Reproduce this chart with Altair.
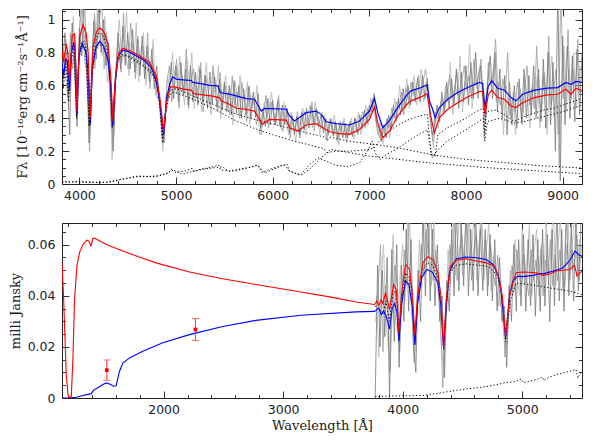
import altair as alt
import pandas as pd

# ---------------- TOP PANEL DATA (F_lambda, 1e-16 erg/cm2/s/A) ----------------
top_grey_start, top_grey_step = 3825, 25
top_grey_flux = [
    0.70, 0.92, 0.66, 0.30, 0.98, 0.74, 0.35, 0.95, 0.78, 1.15, 0.72, 0.25, 0.62, 0.99, 0.76, 1.12,
    0.80, 1.00, 0.72, 0.86, 0.50, 0.20, 0.62, 0.92, 0.70, 0.96, 0.72, 0.92, 0.70, 0.94, 0.68, 0.88,
    0.66, 0.90, 0.64, 0.84, 0.62, 0.82, 0.58, 0.72, 0.50, 0.38, 0.25, 0.55, 0.52, 0.74, 0.52, 0.72,
    0.50, 0.74, 0.54, 0.70, 0.48, 0.72, 0.50, 0.68, 0.48, 0.70, 0.50, 0.66, 0.46, 0.68, 0.49, 0.65,
    0.47, 0.64, 0.45, 0.62, 0.44, 0.60, 0.42, 0.63, 0.43, 0.60, 0.40, 0.58, 0.42, 0.59, 0.40, 0.56,
    0.41, 0.55, 0.34, 0.45, 0.35, 0.52, 0.36, 0.51, 0.36, 0.50, 0.35, 0.48, 0.36, 0.46, 0.31, 0.42,
    0.30, 0.41, 0.30, 0.44, 0.33, 0.46, 0.34, 0.47, 0.36, 0.46, 0.35, 0.42, 0.31, 0.40, 0.30, 0.39,
    0.29, 0.38, 0.28, 0.38, 0.28, 0.37, 0.28, 0.38, 0.29, 0.40, 0.31, 0.42, 0.34, 0.45, 0.37, 0.48,
    0.44, 0.55, 0.36, 0.34, 0.26, 0.36, 0.28, 0.42, 0.33, 0.48, 0.38, 0.52, 0.42, 0.58, 0.46, 0.60,
    0.48, 0.62, 0.50, 0.64, 0.50, 0.66, 0.52, 0.64, 0.42, 0.30, 0.36, 0.48, 0.38, 0.56, 0.44, 0.62,
    0.46, 0.64, 0.48, 0.70, 0.46, 0.68, 0.50, 0.72, 0.48, 0.74, 0.52, 0.80, 0.52, 0.72, 0.55, 0.38,
    0.62, 0.78, 0.52, 0.80, 0.44, 0.70, 0.40, 0.66, 0.30, 0.62, 0.36, 0.60, 0.34, 0.64, 0.38, 0.70,
    0.40, 0.66, 0.42, 0.72, 0.40, 0.70, 0.38, 0.76, 0.34, 0.80, 0.36, 0.74, 0.20, 1.20, 0.02, 0.90,
    0.36, 0.84, 0.40, 0.78, 0.38, 0.82, 0.42, 0.80,
]
top_grey2_start, top_grey2_step = 3838, 25
top_grey2_flux = [
    0.62, 0.88, 0.45, 0.85, 1.02, 0.55, 0.70, 1.10, 0.82, 0.95, 0.60, 0.30, 0.88, 0.70, 1.10, 0.86,
    0.78, 1.02, 0.62, 0.72, 0.15, 0.48, 0.82, 1.00, 0.74, 0.80, 1.05, 0.66, 0.86, 0.74, 0.98, 0.62,
    0.80, 0.92, 0.60, 0.78, 0.70, 0.88, 0.54, 0.64, 0.40, 0.20, 0.42, 0.66, 0.56, 0.80, 0.58, 0.55,
    0.78, 0.60, 0.48, 0.76, 0.62, 0.80, 0.46, 0.62, 0.72, 0.44, 0.60, 0.74, 0.52, 0.42, 0.70, 0.56,
    0.72, 0.40, 0.55, 0.66, 0.48, 0.58, 0.36, 0.62, 0.52, 0.66, 0.44, 0.50, 0.62, 0.36, 0.54, 0.46,
    0.60, 0.30, 0.38, 0.50, 0.40, 0.46, 0.56, 0.38, 0.44, 0.54, 0.33, 0.50, 0.42, 0.30, 0.44, 0.36,
    0.26, 0.40, 0.36, 0.46, 0.30, 0.42, 0.48, 0.34, 0.50, 0.40, 0.30, 0.44, 0.36, 0.26, 0.40, 0.33,
    0.42, 0.26, 0.36, 0.32, 0.40, 0.25, 0.34, 0.40, 0.27, 0.36, 0.44, 0.30, 0.40, 0.48, 0.36, 0.52,
    0.47, 0.40, 0.30, 0.38, 0.24, 0.32, 0.40, 0.28, 0.44, 0.52, 0.40, 0.60, 0.44, 0.52, 0.64, 0.46,
    0.56, 0.66, 0.48, 0.60, 0.70, 0.50, 0.62, 0.56, 0.36, 0.22, 0.42, 0.34, 0.50, 0.42, 0.60, 0.50,
    0.74, 0.42, 0.60, 0.54, 0.78, 0.44, 0.62, 0.56, 0.85, 0.46, 0.64, 0.58, 0.70, 0.60, 0.28, 0.56,
    0.66, 0.58, 0.72, 0.50, 0.62, 0.56, 0.30, 0.60, 0.48, 0.40, 0.56, 0.30, 0.48, 0.58, 0.44, 0.64,
    0.50, 0.34, 0.62, 0.52, 0.66, 0.34, 0.58, 0.68, 0.30, 0.62, 0.78, 0.40, 0.62, 0.10, 0.60, 0.84,
    0.44, 0.70, 0.52, 0.80, 0.46, 0.66, 0.72,
]
top_grey3_start, top_grey3_step = 3831, 25
top_grey3_flux = [
    0.80, 0.66, 0.52, 0.92, 0.70, 0.86, 0.40, 0.98, 1.08, 0.74, 0.68, 0.20, 0.76, 1.04, 0.82, 0.98,
    1.12, 0.70, 0.92, 0.64, 0.36, 0.30, 0.74,
    0.86, 0.68, 1.04, 0.76, 0.70, 0.98, 0.80, 0.64, 0.90, 0.72, 0.84, 0.66, 0.92, 0.58, 0.76, 0.64,
    0.52, 0.56,
    0.28, 0.34, 0.62, 0.72, 0.50, 0.66, 0.76, 0.46,
    0.68, 0.56, 0.82, 0.46, 0.64, 0.70, 0.52, 0.60, 0.74, 0.44, 0.66, 0.58, 0.48, 0.72, 0.54, 0.44,
    0.68, 0.46,
    0.60, 0.52, 0.42, 0.66, 0.48, 0.56, 0.40, 0.62, 0.50, 0.38, 0.60, 0.46, 0.52, 0.36, 0.48, 0.30,
    0.42, 0.54, 0.34, 0.50,
    0.44, 0.36, 0.52, 0.40, 0.32, 0.48, 0.42, 0.28, 0.40, 0.32, 0.44, 0.28, 0.38, 0.44, 0.36, 0.42,
    0.50, 0.32, 0.44, 0.38,
    0.34, 0.42, 0.28, 0.36, 0.40, 0.30, 0.36, 0.24, 0.34, 0.38, 0.28, 0.36, 0.30, 0.36, 0.40, 0.30,
    0.38, 0.44, 0.34, 0.46,
    0.40, 0.52, 0.44, 0.34, 0.28, 0.34, 0.30, 0.40, 0.34, 0.46, 0.40, 0.50, 0.46, 0.56, 0.42, 0.58,
    0.50, 0.62, 0.54, 0.58,
    0.66, 0.54, 0.62, 0.70, 0.60, 0.44, 0.26, 0.44, 0.40, 0.44, 0.52, 0.46, 0.56, 0.66, 0.52, 0.58,
    0.68, 0.50, 0.62, 0.72,
    0.58, 0.66, 0.52, 0.76, 0.60, 0.66, 0.76, 0.46, 0.42, 0.74, 0.60, 0.68, 0.88, 0.54, 0.48, 0.64,
    0.56, 0.80, 0.42, 0.52,
    0.44, 0.62, 0.52, 0.36, 0.56, 0.72, 0.48, 0.58, 0.46, 0.84, 0.52, 0.44, 0.66, 0.54, 0.90, 0.48,
    0.56, 0.70, 0.30, 1.20,
    0.52, 0.66, 0.94, 0.50, 0.70, 0.58, 0.88, 0.54,
]
top_red = [
    (3820, 0.811), (3837, 0.74), (3864, 0.852), (3880, 0.80), (3899, 0.628), (3926, 0.903),
    (3951, 0.913), (3975, 0.444), (4002, 0.893), (4037, 0.97), (4071, 0.913), (4090, 0.80),
    (4113, 0.404), (4140, 0.832), (4175, 0.924), (4209, 0.95), (4250, 0.93), (4295, 0.852),
    (4323, 0.669), (4347, 0.383), (4375, 0.669), (4409, 0.80), (4450, 0.826), (4519, 0.811),
    (4623, 0.78), (4726, 0.74), (4795, 0.66), (4836, 0.506), (4871, 0.322), (4905, 0.506),
    (4940, 0.591), (4985, 0.591), (5071, 0.577), (5157, 0.571), (5181, 0.55), (5278, 0.542),
    (5364, 0.536), (5450, 0.526), (5467, 0.506), (5553, 0.485), (5622, 0.461), (5726, 0.455),
    (5812, 0.444), (5891, 0.363), (5967, 0.393), (6139, 0.389), (6174, 0.342), (6260, 0.322),
    (6346, 0.359), (6450, 0.367), (6519, 0.342), (6588, 0.318), (6691, 0.306), (6794, 0.302),
    (6898, 0.332), (7001, 0.393), (7053, 0.469), (7087, 0.373), (7139, 0.281), (7208, 0.322),
    (7294, 0.414), (7380, 0.481), (7431, 0.506), (7535, 0.530), (7597, 0.55), (7631, 0.424),
    (7673, 0.312), (7724, 0.404), (7811, 0.455), (7914, 0.495), (8017, 0.53), (8138, 0.563),
    (8172, 0.563), (8197, 0.424), (8231, 0.546), (8266, 0.571), (8328, 0.526), (8397, 0.516),
    (8466, 0.475), (8517, 0.465), (8586, 0.495), (8707, 0.526), (8845, 0.542), (8948, 0.546),
    (9034, 0.577), (9086, 0.546), (9138, 0.583), (9200, 0.567),
]
top_blue = [
    (3820, 0.74), (3837, 0.66), (3858, 0.76), (3875, 0.75), (3899, 0.567), (3916, 0.79),
    (3940, 0.862), (3957, 0.81), (3975, 0.424), (3995, 0.79), (4030, 0.856), (4064, 0.81),
    (4088, 0.70), (4113, 0.363), (4133, 0.69), (4168, 0.83), (4209, 0.868), (4250, 0.84),
    (4295, 0.76), (4323, 0.61), (4347, 0.353), (4368, 0.61), (4399, 0.775), (4450, 0.815),
    (4502, 0.807), (4588, 0.78), (4675, 0.75), (4743, 0.71), (4795, 0.628), (4830, 0.506),
    (4871, 0.30), (4905, 0.526), (4933, 0.607), (4967, 0.652), (5002, 0.638), (5071, 0.634),
    (5157, 0.63), (5174, 0.618), (5243, 0.612), (5347, 0.60), (5433, 0.597), (5457, 0.557),
    (5553, 0.547), (5622, 0.536), (5726, 0.52), (5812, 0.516), (5881, 0.444), (5915, 0.46),
    (6139, 0.455), (6174, 0.414), (6226, 0.383), (6346, 0.434), (6450, 0.444), (6501, 0.424),
    (6553, 0.379), (6656, 0.367), (6794, 0.359), (6898, 0.383), (7001, 0.444), (7053, 0.522),
    (7087, 0.434), (7139, 0.342), (7208, 0.387), (7294, 0.465), (7380, 0.536), (7431, 0.567),
    (7535, 0.587), (7597, 0.603), (7621, 0.506), (7655, 0.455), (7680, 0.404), (7724, 0.465),
    (7811, 0.516), (7914, 0.557), (8017, 0.587), (8138, 0.618), (8172, 0.612), (8197, 0.465),
    (8231, 0.597), (8266, 0.628), (8328, 0.583), (8397, 0.571), (8466, 0.526), (8517, 0.506),
    (8586, 0.546), (8707, 0.571), (8845, 0.583), (8948, 0.587), (9034, 0.618), (9086, 0.607),
    (9138, 0.624), (9200, 0.618),
]
top_wd_hot = [
    (3820, 0.66), (3835, 0.58), (3850, 0.72), (3875, 0.70), (3889, 0.50), (3905, 0.70), (3930, 0.80),
    (3950, 0.80), (3970, 0.40), (3990, 0.72), (4020, 0.86), (4050, 0.87), (4075, 0.80), (4102, 0.36),
    (4125, 0.68), (4160, 0.86), (4200, 0.92), (4240, 0.91), (4280, 0.84), (4310, 0.72), (4340, 0.35),
    (4370, 0.62), (4400, 0.75), (4440, 0.78), (4480, 0.78), (4550, 0.76), (4650, 0.72), (4750, 0.67),
    (4800, 0.62), (4830, 0.52), (4861, 0.25), (4890, 0.42), (4920, 0.52), (4960, 0.56), (5050, 0.545),
    (5200, 0.51), (5400, 0.455), (5600, 0.39), (5800, 0.34), (6000, 0.30), (6200, 0.265), (6400, 0.235),
    (6530, 0.215), (6563, 0.19), (6600, 0.21), (6800, 0.19), (7000, 0.17), (7300, 0.15), (7600, 0.13),
    (7900, 0.115), (8200, 0.10), (8600, 0.085), (9000, 0.07), (9200, 0.063),
]
top_wd_cool = [
    (3820, 0.72), (3835, 0.64), (3855, 0.74), (3889, 0.55), (3910, 0.77), (3940, 0.84), (3970, 0.41),
    (3995, 0.77), (4030, 0.84), (4065, 0.80), (4102, 0.35), (4135, 0.68), (4170, 0.82), (4210, 0.85),
    (4250, 0.83), (4295, 0.75), (4325, 0.60), (4340, 0.34), (4370, 0.60), (4400, 0.76), (4450, 0.79),
    (4550, 0.77), (4650, 0.73), (4750, 0.68), (4800, 0.61), (4830, 0.49), (4861, 0.28), (4895, 0.48),
    (4930, 0.57), (5000, 0.58), (5200, 0.53), (5400, 0.48), (5600, 0.43), (5800, 0.395), (6000, 0.365),
    (6200, 0.335), (6400, 0.305), (6540, 0.285), (6563, 0.265), (6590, 0.285), (6800, 0.26),
    (7000, 0.245), (7300, 0.22), (7673, 0.175), (8000, 0.15), (8400, 0.13), (8800, 0.11), (9200, 0.097),
]
top_m_red = [
    (3820, 0.015), (3900, 0.012), (4000, 0.015), (4100, 0.012), (4200, 0.010), (4300, 0.012),
    (4400, 0.025), (4500, 0.035), (4600, 0.045), (4700, 0.045), (4800, 0.050), (4900, 0.060),
    (4950, 0.085), (5000, 0.070), (5100, 0.080), (5168, 0.095), (5180, 0.075), (5250, 0.090),
    (5350, 0.100), (5440, 0.115), (5460, 0.085), (5550, 0.080), (5650, 0.090), (5750, 0.100),
    (5850, 0.115), (5890, 0.070), (5950, 0.085), (6050, 0.105), (6150, 0.120), (6170, 0.080),
    (6250, 0.060), (6300, 0.055), (6400, 0.100), (6500, 0.160), (6560, 0.190), (6650, 0.200),
    (6800, 0.200), (6900, 0.205), (7000, 0.210), (7050, 0.220), (7100, 0.260), (7200, 0.320),
    (7300, 0.360), (7400, 0.390), (7500, 0.410), (7600, 0.425), (7640, 0.180), (7680, 0.170),
    (7710, 0.300), (7800, 0.340), (7900, 0.370), (8000, 0.400), (8100, 0.440), (8180, 0.460),
    (8195, 0.310), (8210, 0.440), (8300, 0.450), (8400, 0.420), (8500, 0.380), (8600, 0.410),
    (8700, 0.430), (8800, 0.450), (8900, 0.460), (9000, 0.480), (9100, 0.500), (9200, 0.520),
]
top_m_blue = [
    (3820, 0.012), (4000, 0.012), (4200, 0.008), (4300, 0.010), (4450, 0.030), (4600, 0.048),
    (4800, 0.045), (4930, 0.070), (4950, 0.090), (5070, 0.060), (5170, 0.077), (5280, 0.090),
    (5480, 0.105), (5550, 0.077), (5620, 0.080), (5740, 0.098), (5840, 0.114), (5915, 0.067),
    (6120, 0.118), (6175, 0.077), (6290, 0.057), (6380, 0.118), (6470, 0.160), (6550, 0.140),
    (6650, 0.115), (6780, 0.105), (6900, 0.130), (6980, 0.200), (7030, 0.260), (7060, 0.190),
    (7110, 0.150), (7150, 0.170), (7300, 0.220), (7450, 0.280), (7600, 0.330), (7650, 0.160),
    (7700, 0.200), (7800, 0.260), (8000, 0.330), (8180, 0.400), (8195, 0.260), (8220, 0.380),
    (8350, 0.400), (8500, 0.370), (8600, 0.380), (8800, 0.410), (9000, 0.440), (9200, 0.480),
]

# ---------------- BOTTOM PANEL DATA (milli Jansky) ----------------
bot_grey_start, bot_grey_step = 3770, 20
bot_grey_flux = [
    0.000, 0.052, 0.020, 0.050, 0.024, 0.055, 0.000, 0.058, 0.022, 0.060, 0.012, 0.052, 0.030, 0.066,
    0.034, 0.062, 0.022, 0.010, 0.050, 0.030, 0.075, 0.040, 0.075, 0.038, 0.066, 0.036, 0.060, 0.030,
    0.040, 0.008, 0.046, 0.034, 0.066, 0.040, 0.075, 0.042, 0.068, 0.044, 0.075, 0.040, 0.066, 0.042,
    0.075, 0.040, 0.066, 0.042, 0.066, 0.040, 0.064, 0.038, 0.062, 0.034, 0.055, 0.030, 0.036, 0.012,
    0.044, 0.030, 0.060, 0.034, 0.062, 0.036, 0.064, 0.034, 0.062, 0.036, 0.064, 0.032, 0.062, 0.034,
    0.066, 0.036, 0.064, 0.030, 0.066, 0.036, 0.075, 0.038, 0.066, 0.034, 0.075, 0.040, 0.068, 0.038,
    0.075, 0.042, 0.068,
]
bot_grey2_start, bot_grey2_step = 3780, 20
bot_grey2_flux = [
    0.040, 0.016, 0.046, 0.060, 0.030, 0.020, 0.048, 0.064, 0.030, 0.026, 0.050, 0.060, 0.038, 0.070,
    0.044, 0.030, 0.014, 0.040, 0.062, 0.044, 0.075, 0.050, 0.062, 0.044, 0.070, 0.046, 0.052, 0.022,
    0.012, 0.030, 0.058, 0.044, 0.075, 0.048, 0.060, 0.075, 0.048, 0.062, 0.075, 0.050, 0.060, 0.075,
    0.046, 0.062, 0.070, 0.046, 0.058, 0.068, 0.042, 0.056, 0.048, 0.036, 0.046, 0.028, 0.020, 0.030,
    0.050, 0.040, 0.062, 0.046, 0.040, 0.066, 0.044, 0.054, 0.068, 0.040, 0.058, 0.066, 0.040, 0.060,
    0.046, 0.070, 0.044, 0.058, 0.075, 0.044, 0.060, 0.070, 0.042, 0.062, 0.075, 0.046, 0.060, 0.075,
    0.048, 0.062,
]
bot_grey3_start, bot_grey3_step = 3775, 20
bot_grey3_flux = [
    0.030, 0.044, 0.060, 0.018, 0.044, 0.034, 0.010, 0.040, 0.052, 0.044, 0.018, 0.040, 0.058, 0.044,
    0.075, 0.038, 0.014, 0.030, 0.044, 0.060, 0.048, 0.066, 0.056, 0.075, 0.046, 0.058, 0.042, 0.034,
    0.004, 0.024, 0.040, 0.060, 0.050, 0.070, 0.046, 0.058, 0.064, 0.052, 0.058, 0.075, 0.046, 0.058,
    0.064, 0.052, 0.075, 0.050, 0.062, 0.044, 0.060, 0.050, 0.044, 0.056, 0.036, 0.040, 0.016, 0.024,
    0.040, 0.052, 0.042, 0.058, 0.048, 0.044, 0.056, 0.046, 0.040, 0.058, 0.046, 0.054, 0.044, 0.058,
    0.040, 0.054, 0.048, 0.062, 0.044, 0.056, 0.046, 0.058, 0.050, 0.044, 0.060, 0.048, 0.058, 0.050,
    0.064, 0.046, 0.060,
]
bot_red = [
    (1150, 0.0529), (1164, 0.0386), (1186, 0.0085), (1200, 0.0015), (1208, 0.0), (1228, 0.0007),
    (1242, 0.0164), (1255, 0.0386), (1275, 0.0517), (1297, 0.057), (1325, 0.0601), (1358, 0.0618),
    (1375, 0.0614), (1392, 0.0595), (1409, 0.0625), (1425, 0.0625), (1520, 0.0601), (1659, 0.0575),
    (1800, 0.0551), (1937, 0.0529), (2216, 0.0493), (2494, 0.0467), (2772, 0.0444), (3148, 0.0415),
    (3400, 0.0395), (3611, 0.0376), (3764, 0.0366), (3784, 0.038), (3801, 0.0362), (3820, 0.0385),
    (3834, 0.0369), (3857, 0.0412), (3890, 0.0346), (3923, 0.0444), (3946, 0.0425), (3968, 0.0255),
    (3990, 0.0405), (4024, 0.0523), (4057, 0.0503), (4080, 0.0412), (4102, 0.0248), (4124, 0.0399),
    (4169, 0.0529), (4208, 0.0553), (4253, 0.0542), (4295, 0.049), (4320, 0.0399), (4342, 0.0196),
    (4364, 0.0386), (4398, 0.0516), (4448, 0.0539), (4532, 0.0545), (4615, 0.0536), (4699, 0.0529),
    (4769, 0.0516), (4805, 0.047), (4833, 0.0399), (4861, 0.0242), (4895, 0.0399), (4928, 0.0464),
    (4950, 0.049), (5006, 0.0493), (5118, 0.049), (5173, 0.048), (5229, 0.0485), (5285, 0.0497),
    (5397, 0.0503), (5438, 0.0519), (5458, 0.0477), (5500, 0.0497),
]
bot_blue = [
    (1150, 0.0), (1208, 0.0), (1270, 0.0003), (1325, 0.001), (1395, 0.0017), (1415, 0.0031),
    (1450, 0.004), (1492, 0.0053), (1520, 0.0059), (1548, 0.0055), (1581, 0.0046), (1603, 0.0048),
    (1631, 0.0105), (1659, 0.0137), (1715, 0.0157), (1826, 0.0183), (1993, 0.0216), (2216, 0.0248),
    (2494, 0.028), (2772, 0.0304), (3148, 0.0324), (3611, 0.0337), (3764, 0.0339), (3778, 0.0344),
    (3801, 0.0352), (3820, 0.0327), (3840, 0.0340), (3862, 0.032), (3890, 0.027), (3912, 0.035),
    (3932, 0.037), (3951, 0.034), (3968, 0.0222), (3990, 0.0366), (4024, 0.0458), (4052, 0.0444),
    (4080, 0.0359), (4102, 0.0209), (4124, 0.0366), (4158, 0.047), (4202, 0.0503), (4247, 0.0493),
    (4295, 0.0451), (4320, 0.036), (4342, 0.019), (4364, 0.036), (4392, 0.0497), (4448, 0.0545),
    (4532, 0.0552), (4615, 0.0549), (4699, 0.0542), (4755, 0.0523), (4797, 0.0484), (4825, 0.0412),
    (4861, 0.0235), (4895, 0.0405), (4922, 0.0458), (4964, 0.0477), (5006, 0.0475), (5090, 0.0480),
    (5159, 0.0488), (5173, 0.0486), (5285, 0.050), (5341, 0.051), (5400, 0.054), (5442, 0.0575),
    (5475, 0.056), (5500, 0.0555),
]
bot_wd = [
    (3770, 0.036), (3800, 0.035), (3835, 0.033), (3860, 0.038), (3889, 0.030), (3920, 0.041),
    (3945, 0.042), (3970, 0.023), (3995, 0.039), (4025, 0.049), (4055, 0.047), (4080, 0.040),
    (4102, 0.021), (4125, 0.038), (4165, 0.050), (4205, 0.053), (4250, 0.052), (4295, 0.047),
    (4320, 0.038), (4342, 0.019), (4365, 0.036), (4395, 0.049), (4450, 0.052), (4530, 0.0525),
    (4620, 0.052), (4720, 0.0515), (4790, 0.048), (4820, 0.043), (4840, 0.035), (4861, 0.022),
    (4880, 0.030), (4900, 0.038), (4950, 0.045), (5060, 0.0444), (5230, 0.0431), (5400, 0.0418),
    (5500, 0.0405),
]
bot_m = [
    (3770, 0.0005), (3900, 0.0008), (4050, 0.0009), (4170, 0.0010), (4250, 0.0015), (4340, 0.0022),
    (4450, 0.0030), (4530, 0.0035), (4615, 0.0040), (4700, 0.0045), (4783, 0.0052), (4860, 0.0060),
    (4950, 0.0065), (4990, 0.0075), (5010, 0.0060), (5118, 0.0072), (5170, 0.0082), (5180, 0.0068),
    (5229, 0.0082), (5290, 0.0092), (5341, 0.0098), (5400, 0.0105), (5438, 0.0110), (5450, 0.0112),
    (5465, 0.0078), (5480, 0.0090), (5500, 0.0108),
]
phot_wl = [1525, 2266]
phot_flux = [0.0109, 0.0268]
phot_lo = [0.0069, 0.0225]
phot_hi = [0.0149, 0.0311]

# ---------------- helpers ----------------
TOP_X, TOP_Y = [3820, 9200], [0, 1.065]
BOT_X, BOT_Y = [1150, 5500], [0, 0.0685]
W, H = 520, 175


def pairs_df(p):
    return pd.DataFrame({"w": [a for a, _ in p], "f": [b for _, b in p]})


def grid_df(start, step, vals):
    return pd.DataFrame({"w": [start + step * i for i in range(len(vals))], "f": vals})


def line(df, xd, yd, color, width=1.0, dash=None, opacity=1.0):
    kw = dict(color=color, strokeWidth=width, clip=True, opacity=opacity)
    if dash:
        kw["strokeDash"] = dash
    return alt.Chart(df).mark_line(**kw).encode(
        x=alt.X("w:Q", scale=alt.Scale(domain=xd, nice=False, zero=False), axis=None),
        y=alt.Y("f:Q", scale=alt.Scale(domain=yd, nice=False, zero=False), axis=None),
    )


def frame_axes(xd, yd, xmaj, xmin, ymaj, ymin, xtitle, ytitle, ytpad):
    dummy = pd.DataFrame({"w": [xd[0]], "f": [yd[0]]})
    base = alt.Chart(dummy).mark_point(opacity=0)
    xs = alt.Scale(domain=xd, nice=False, zero=False)
    ys = alt.Scale(domain=yd, nice=False, zero=False)
    com = dict(grid=False, domain=False, tickColor="#222", tickWidth=0.9)
    layers = []
    xa = dict(orient="bottom", values=xmaj, tickSize=7, offset=-7, labelPadding=5, format="d",
              labelFlush=False, titlePadding=4, **com)
    ya = dict(orient="left", values=ymaj, tickSize=7, offset=-7, labelPadding=7, format="~g",
              titlePadding=ytpad, **com)
    layers.append(base.encode(
        x=alt.X("w:Q", scale=xs, title=xtitle, axis=alt.Axis(**xa)),
        y=alt.Y("f:Q", scale=ys, title=ytitle, axis=alt.Axis(**ya)),
    ))
    for (xo, yo, xv, yv, ts) in [("bottom", "left", xmin, ymin, 3.5),
                                  ("top", "right", xmaj, ymaj, 7),
                                  ("top", "right", xmin, ymin, 3.5)]:
        layers.append(base.encode(
            x=alt.X("w:Q", scale=xs, title=None,
                    axis=alt.Axis(orient=xo, values=xv, tickSize=ts, offset=-ts, labels=False, **com)),
            y=alt.Y("f:Q", scale=ys, title=None,
                    axis=alt.Axis(orient=yo, values=yv, tickSize=ts, offset=-ts, labels=False, **com)),
        ))
    return layers


GREY = "#787878"
MGREY = "#9c9c9c"
LGREY = "#bdbdbd"
DOT = [1.2, 2.2]

# ---------------- top panel ----------------
top_layers = [
    line(grid_df(top_grey2_start, top_grey2_step, top_grey2_flux), TOP_X, TOP_Y, LGREY, 0.9),
    line(grid_df(top_grey3_start, top_grey3_step, top_grey3_flux), TOP_X, TOP_Y, MGREY, 0.8),
    line(grid_df(top_grey_start, top_grey_step, top_grey_flux), TOP_X, TOP_Y, GREY, 0.8),
    line(pairs_df(top_wd_hot), TOP_X, TOP_Y, "#000", 1.0, DOT),
    line(pairs_df(top_wd_cool), TOP_X, TOP_Y, "#000", 1.0, DOT),
    line(pairs_df(top_m_red), TOP_X, TOP_Y, "#000", 1.0, DOT),
    line(pairs_df(top_m_blue), TOP_X, TOP_Y, "#000", 1.0, DOT),
    line(pairs_df(top_blue), TOP_X, TOP_Y, "#0000ff", 1.2),
    line(pairs_df(top_red), TOP_X, TOP_Y, "#ff0000", 1.2),
]
top_axes = frame_axes(
    TOP_X, TOP_Y,
    [4000, 5000, 6000, 7000, 8000, 9000], list(range(4000, 9200, 200)),
    [0, 0.2, 0.4, 0.6, 0.8, 1.0], [round(0.05 * i, 2) for i in range(1, 22)],
    None, "Fλ [10⁻¹⁶erg cm⁻²s⁻¹Å⁻¹]", 6,
)
top = alt.layer(*top_layers, *top_axes).resolve_axis(x="independent", y="independent").properties(
    width=W, height=H)

# ---------------- bottom panel ----------------
phot = pd.DataFrame({"w": phot_wl, "f": phot_flux, "lo": phot_lo, "hi": phot_hi})
bxs = alt.Scale(domain=BOT_X, nice=False, zero=False)
bys = alt.Scale(domain=BOT_Y, nice=False, zero=False)
err = alt.Chart(phot).mark_rule(color="#ff3030", strokeWidth=1).encode(
    x=alt.X("w:Q", scale=bxs, axis=None), y=alt.Y("lo:Q", scale=bys, axis=None), y2="hi:Q")
cap_lo = alt.Chart(phot).mark_tick(color="#ff3030", orient="horizontal", size=7, thickness=1).encode(
    x=alt.X("w:Q", scale=bxs, axis=None), y=alt.Y("lo:Q", scale=bys, axis=None))
cap_hi = alt.Chart(phot).mark_tick(color="#ff3030", orient="horizontal", size=7, thickness=1).encode(
    x=alt.X("w:Q", scale=bxs, axis=None), y=alt.Y("hi:Q", scale=bys, axis=None))
pts = alt.Chart(phot).mark_square(color="#ff0000", size=14, opacity=1).encode(
    x=alt.X("w:Q", scale=bxs, axis=None), y=alt.Y("f:Q", scale=bys, axis=None))

bot_layers = [
    line(grid_df(bot_grey2_start, bot_grey2_step, bot_grey2_flux), BOT_X, BOT_Y, LGREY, 0.9),
    line(grid_df(bot_grey3_start, bot_grey3_step, bot_grey3_flux), BOT_X, BOT_Y, MGREY, 0.8),
    line(grid_df(bot_grey_start, bot_grey_step, bot_grey_flux), BOT_X, BOT_Y, GREY, 0.8),
    line(pairs_df(bot_wd), BOT_X, BOT_Y, "#000", 1.0, DOT),
    line(pairs_df(bot_m), BOT_X, BOT_Y, "#000", 1.0, DOT),
    line(pairs_df(bot_blue), BOT_X, BOT_Y, "#0000ff", 1.1),
    line(pairs_df(bot_red), BOT_X, BOT_Y, "#ff0000", 1.1),
    err, cap_lo, cap_hi, pts,
]
bot_axes = frame_axes(
    BOT_X, BOT_Y,
    [2000, 3000, 4000, 5000], list(range(1200, 5500, 200)),
    [0, 0.02, 0.04, 0.06], [round(0.005 * i, 3) for i in range(1, 14)],
    "Wavelength [Å]", "milli Jansky", 5,
)
bottom = alt.layer(*bot_layers, *bot_axes).resolve_axis(x="independent", y="independent").properties(
    width=W, height=H)

chart = alt.vconcat(top, bottom, spacing=20).properties(padding=0).configure_view(
    stroke="#222", strokeWidth=1
).configure_axis(
    labelFont="DejaVu Sans", labelFontSize=12.5, labelColor="#222",
    titleFont="DejaVu Serif", titleFontSize=13, titleFontWeight="normal", titleColor="#222",
)

chart.save("out.html", embed_options={"renderer": "svg", "actions": False})
